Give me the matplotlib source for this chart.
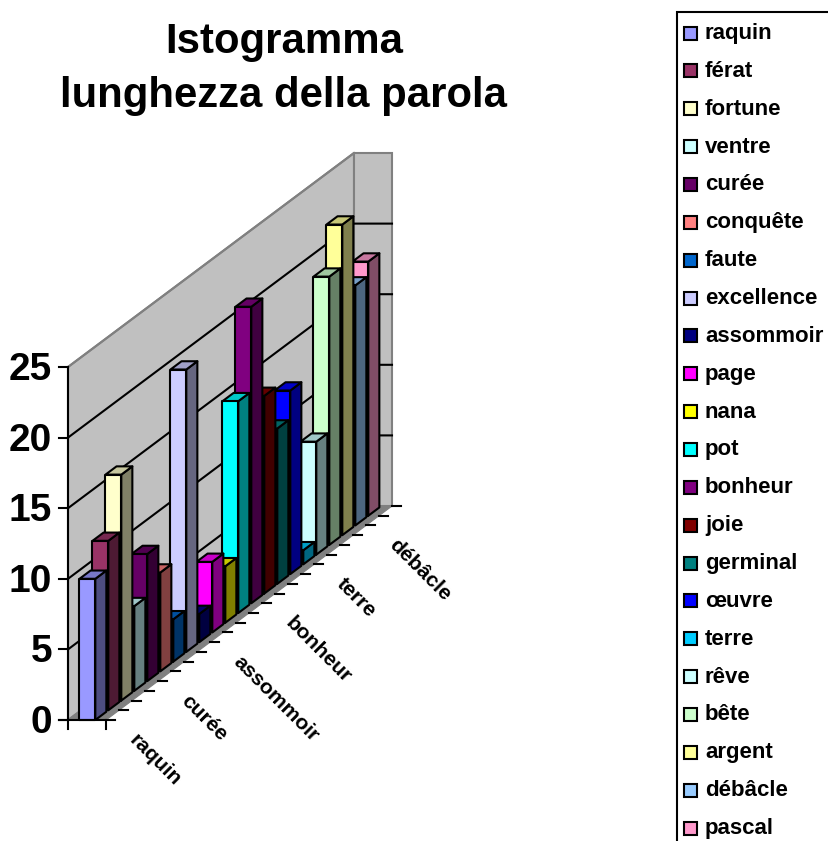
import matplotlib
matplotlib.use("Agg")
import matplotlib.pyplot as plt
from matplotlib.patches import Polygon, Rectangle

plt.rcParams['font.family'] = ['Liberation Sans', 'DejaVu Sans']

# --- data ---
series_names = ["raquin", "férat", "fortune", "ventre", "curée", "conquête", "faute",
                "excellence", "assommoir", "page", "nana", "pot", "bonheur", "joie",
                "germinal", "œuvre", "terre", "rêve", "bête", "argent", "débâcle", "pascal"]
series_values = [10, 12, 16, 6, 9, 7, 3, 20, 2, 5, 4, 15, 21, 14, 11, 13, 1, 8, 19, 22, 17, 18]
series_colors = ["#9999FF", "#993366", "#FFFFCC", "#CCFFFF", "#660066", "#FF8080", "#0066CC",
                 "#CCCCFF", "#000080", "#FF00FF", "#FFFF00", "#00FFFF", "#800080", "#800000",
                 "#008080", "#0000FF", "#00CCFF", "#CCFFFF", "#CCFFCC", "#FFFF99", "#99CCFF", "#FF99CC"]
value_ticks = [0, 5, 10, 15, 20, 25]
depth_labels = ["raquin", "curée", "assommoir", "bonheur", "terre", "débâcle"]
depth_label_positions = [0, 4, 8, 12, 16, 20]
title_text = "Istogramma\nlunghezza della parola"

# --- oblique projection, in figure pixels ---
W, H = 829, 841
OX, OY = 68.0, 720.0
SLOT_X, SLOT_Y = 13.0, 9.727
LATERAL = 38.0
UNIT = 14.12
VMAX = 25
N = len(series_names)


def project(s, c, v):
    """s: depth in series slots, c: lateral 0..1, v: value."""
    return (OX + SLOT_X * s + LATERAL * c, OY - SLOT_Y * s - UNIT * v)


def shade(hexcol, k):
    r, g, b = matplotlib.colors.to_rgb(hexcol)
    return (r * k, g * k, b * k)


fig = plt.figure(figsize=(W / 100, H / 100), dpi=100, facecolor="white")
ax = fig.add_axes([0, 0, 1, 1])
ax.set_xlim(0, W)
ax.set_ylim(H, 0)
ax.axis("off")

LW = 1.5
TICK_LW = 1.5
WALL = "#C0C0C0"
EDGE = "#808080"

# walls and floor
ax.add_patch(Polygon([project(0, 0, 0), project(0, 0, VMAX), project(N, 0, VMAX), project(N, 0, 0)],
                     fc=WALL, ec=EDGE, lw=1.5, zorder=1))
ax.add_patch(Polygon([project(N, 0, 0), project(N, 0, VMAX), project(N, 1, VMAX), project(N, 1, 0)],
                     fc=WALL, ec=EDGE, lw=1.5, zorder=1))
ax.add_patch(Polygon([project(0, 0, 0), project(0, 1, 0), project(N, 1, 0), project(N, 0, 0)],
                     fc=EDGE, ec=EDGE, lw=0.8, zorder=1))

# gridlines
for v in value_ticks[1:-1]:
    a, b, c = project(0, 0, v), project(N, 0, v), project(N, 1, v)
    ax.plot([a[0], b[0], c[0]], [a[1], b[1], c[1]], color="black", lw=1.5, zorder=2, solid_joinstyle="miter")
a, b = project(0, 0, VMAX), project(N, 0, VMAX)
ax.plot([a[0], b[0]], [a[1], b[1]], color=EDGE, lw=1.5, zorder=2)

# bars, back to front
C0, C1 = 11.5 / 38, 27.3 / 38
DEPTH = 0.85
z = 3
for i in range(N - 1, -1, -1):
    v = series_values[i]
    col = series_colors[i]
    front = [project(i, C0, 0), project(i, C1, 0), project(i, C1, v), project(i, C0, v)]
    side = [project(i, C1, 0), project(i + DEPTH, C1, 0), project(i + DEPTH, C1, v), project(i, C1, v)]
    top = [project(i, C0, v), project(i, C1, v), project(i + DEPTH, C1, v), project(i + DEPTH, C0, v)]
    for pts, k in ((side, 0.5), (top, 0.78), (front, 1.0)):
        ax.add_patch(Polygon(pts, fc=shade(col, k), ec="black", lw=LW, joinstyle="round", zorder=z))
        z += 1

# value axis
x0, y0 = project(0, 0, 0)
xt, yt = project(0, 0, VMAX)
ax.plot([x0, xt], [y0 + 9, yt], color="black", lw=TICK_LW, zorder=200)
ax.plot([x0 - 9, project(0, 1, 0)[0] + 9], [y0, y0], color="black", lw=TICK_LW, zorder=200)
xr, yr = project(0, 1, 0)
ax.plot([xr, xr], [yr, yr + 9], color="black", lw=TICK_LW, zorder=200)
for v in value_ticks:
    x, y = project(0, 0, v)
    ax.plot([x - 9, x], [y, y], color="black", lw=TICK_LW, zorder=200)
    ax.text(x - 16, y + 3, str(v), ha="right", va="center", fontsize=28, fontweight="bold", color="black")

# depth axis ticks and labels
for s in range(1, N + 1):
    x, y = project(s, 1, 0)
    ax.plot([x, x + 9], [y, y], color="black", lw=TICK_LW, zorder=200)
for name, s in zip(depth_labels, depth_label_positions):
    x, y = project(s + 0.5, 1, 0)
    ax.text(x + 19.5, y + 22, name, rotation=-45, rotation_mode="anchor", ha="left", va="center",
            fontsize=15.2, fontweight="bold", color="black")

# title
ax.text(284, 69, title_text, ha="center", va="center", fontsize=30.2, fontweight="bold",
        color="black", linespacing=1.45)

# legend box, running off the page as in the source
ax.add_patch(Rectangle((677, 12), 200, 860, fc="white", ec="black", lw=1.5, zorder=300))
for i, (name, col) in enumerate(zip(series_names, series_colors)):
    y = 33 + 37.86 * i
    ax.add_patch(Rectangle((684, y - 6.5), 13, 13, fc=col, ec="black", lw=1.5, zorder=301))
    ax.text(705, y + 0.5, name, ha="left", va="center", fontsize=16, fontweight="bold", color="black", zorder=302)

fig.savefig("out.png", dpi=100, facecolor="white")
